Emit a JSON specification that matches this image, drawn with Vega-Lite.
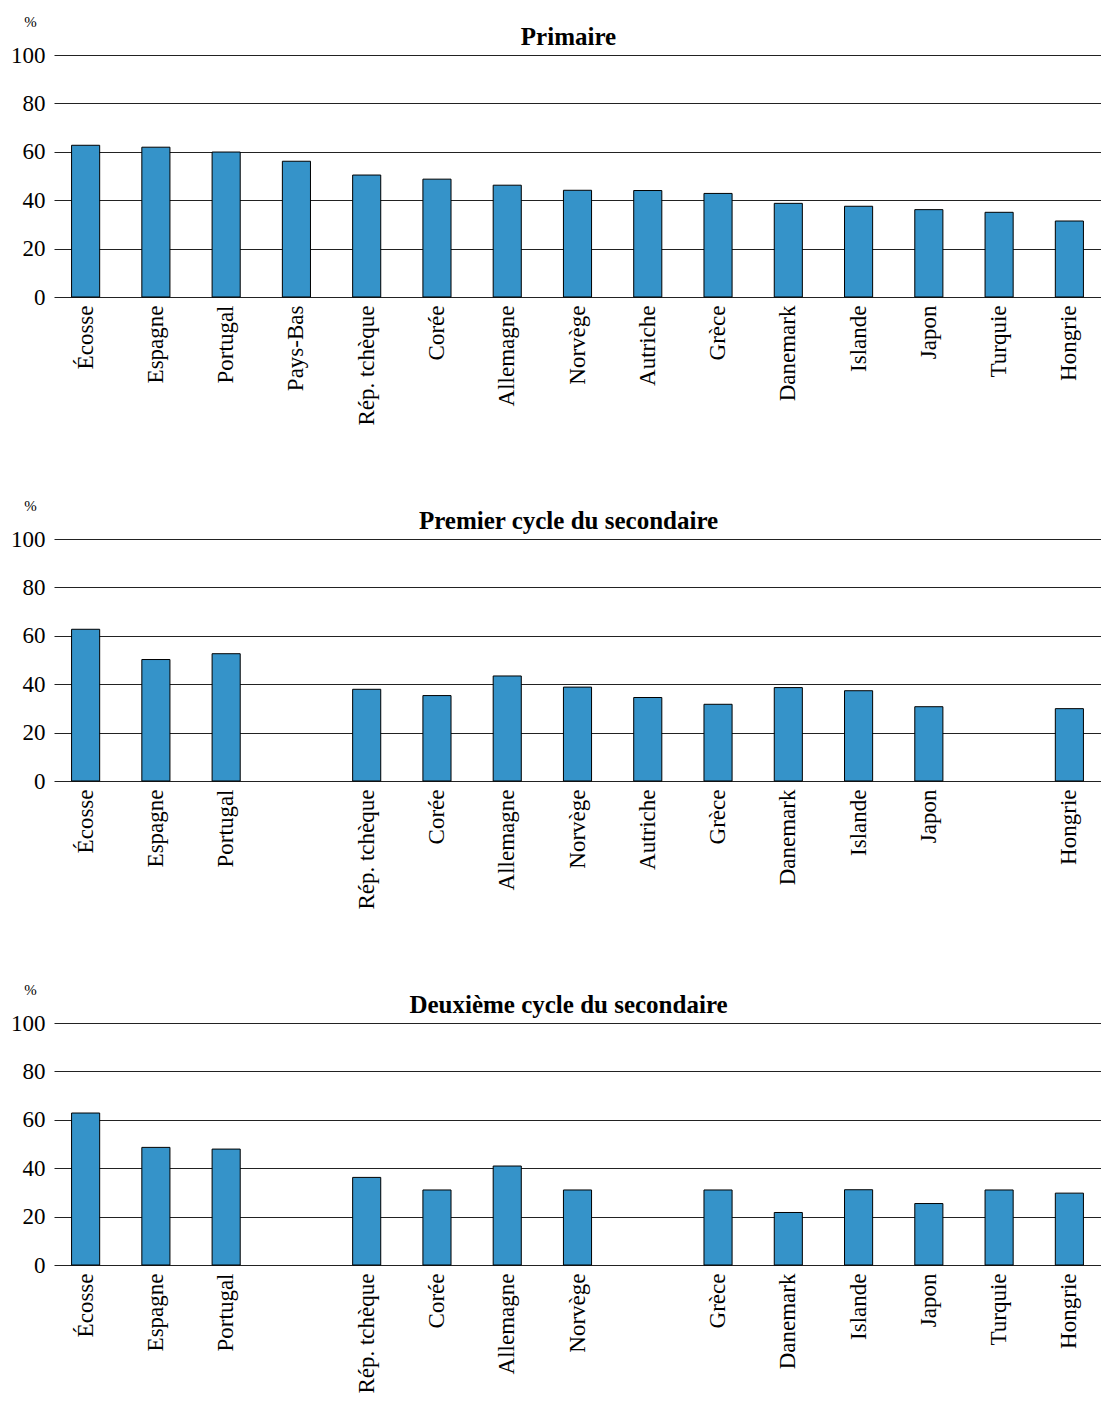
{
  "$schema": "https://vega.github.io/schema/vega-lite/v6.json",
  "background": "white",
  "padding": {"left": 10, "top": 14, "right": 0, "bottom": 0},
  "bounds": "flush",
  "spacing": 242,
  "config": {
    "font": "Liberation Serif",
    "view": {"stroke": null},
    "axis": {"labelColor": "#000", "titleColor": "#000", "labelFont": "Liberation Serif", "titleFont": "Liberation Serif"},
    "title": {"font": "Liberation Serif", "fontSize": 25, "fontWeight": "bold", "color": "#000", "anchor": "middle", "offset": -36, "dx": -9}
  },
  "datasets": {
    "d": [
      {"niveau": "Primaire", "pays": "Écosse", "valeur": 62.7},
      {"niveau": "Primaire", "pays": "Espagne", "valeur": 61.9},
      {"niveau": "Primaire", "pays": "Portugal", "valeur": 59.9},
      {"niveau": "Primaire", "pays": "Pays-Bas", "valeur": 56.1},
      {"niveau": "Primaire", "pays": "Rép. tchèque", "valeur": 50.4},
      {"niveau": "Primaire", "pays": "Corée", "valeur": 48.7},
      {"niveau": "Primaire", "pays": "Allemagne", "valeur": 46.2},
      {"niveau": "Primaire", "pays": "Norvège", "valeur": 44.1},
      {"niveau": "Primaire", "pays": "Autriche", "valeur": 44.0},
      {"niveau": "Primaire", "pays": "Grèce", "valeur": 42.8},
      {"niveau": "Primaire", "pays": "Danemark", "valeur": 38.7},
      {"niveau": "Primaire", "pays": "Islande", "valeur": 37.5},
      {"niveau": "Primaire", "pays": "Japon", "valeur": 36.1},
      {"niveau": "Primaire", "pays": "Turquie", "valeur": 35.0},
      {"niveau": "Primaire", "pays": "Hongrie", "valeur": 31.4},
      {"niveau": "Premier", "pays": "Écosse", "valeur": 62.7},
      {"niveau": "Premier", "pays": "Espagne", "valeur": 50.2},
      {"niveau": "Premier", "pays": "Portugal", "valeur": 52.6},
      {"niveau": "Premier", "pays": "Rép. tchèque", "valeur": 37.9},
      {"niveau": "Premier", "pays": "Corée", "valeur": 35.3},
      {"niveau": "Premier", "pays": "Allemagne", "valeur": 43.4},
      {"niveau": "Premier", "pays": "Norvège", "valeur": 38.8},
      {"niveau": "Premier", "pays": "Autriche", "valeur": 34.5},
      {"niveau": "Premier", "pays": "Grèce", "valeur": 31.7},
      {"niveau": "Premier", "pays": "Danemark", "valeur": 38.6},
      {"niveau": "Premier", "pays": "Islande", "valeur": 37.3},
      {"niveau": "Premier", "pays": "Japon", "valeur": 30.7},
      {"niveau": "Premier", "pays": "Hongrie", "valeur": 29.9},
      {"niveau": "Deuxieme", "pays": "Écosse", "valeur": 62.8},
      {"niveau": "Deuxieme", "pays": "Espagne", "valeur": 48.6},
      {"niveau": "Deuxieme", "pays": "Portugal", "valeur": 47.9},
      {"niveau": "Deuxieme", "pays": "Rép. tchèque", "valeur": 36.2},
      {"niveau": "Deuxieme", "pays": "Corée", "valeur": 31.0},
      {"niveau": "Deuxieme", "pays": "Allemagne", "valeur": 40.9},
      {"niveau": "Deuxieme", "pays": "Norvège", "valeur": 31.0},
      {"niveau": "Deuxieme", "pays": "Grèce", "valeur": 31.0},
      {"niveau": "Deuxieme", "pays": "Danemark", "valeur": 21.7},
      {"niveau": "Deuxieme", "pays": "Islande", "valeur": 31.1},
      {"niveau": "Deuxieme", "pays": "Japon", "valeur": 25.4},
      {"niveau": "Deuxieme", "pays": "Turquie", "valeur": 31.0},
      {"niveau": "Deuxieme", "pays": "Hongrie", "valeur": 29.7}
    ]
  },
  "vconcat": [
    {
      "width": 1047, "height": 242,
      "data": {"name": "d"},
      "transform": [{"filter": "datum.niveau === 'Primaire'"}],
      "title": {"text": "Primaire"},
      "mark": {"type": "bar", "fill": "#3593C9", "stroke": "#000", "strokeWidth": 1},
      "encoding": {
        "x": {"field": "pays", "type": "nominal", "sort": null,
          "scale": {"domain": ["Écosse","Espagne","Portugal","Pays-Bas","Rép. tchèque","Corée","Allemagne","Norvège","Autriche","Grèce","Danemark","Islande","Japon","Turquie","Hongrie"], "paddingInner": 0.6, "paddingOuter": 0.25},
          "axis": {"title": null, "labelAngle": -90, "labelFontSize": 23, "labelPadding": 8, "ticks": false, "domain": false, "labelLimit": 300,
            "values": ["Écosse","Espagne","Portugal","Pays-Bas","Rép. tchèque","Corée","Allemagne","Norvège","Autriche","Grèce","Danemark","Islande","Japon","Turquie","Hongrie"]}},
        "y": {"field": "valeur", "type": "quantitative", "scale": {"domain": [0, 100]},
          "axis": {"values": [0, 20, 40, 60, 80, 100], "title": "%", "titleAngle": 0, "titleFontSize": 15, "titleFontWeight": "normal", "titleAlign": "center", "titleBaseline": "alphabetic", "titleX": -24, "titleY": -29,
            "labelFontSize": 23, "labelPadding": 9, "ticks": false, "domain": false, "grid": true, "gridColor": "#222", "gridWidth": 1, "gridOpacity": 1}}
      }
    },
    {
      "width": 1047, "height": 242,
      "data": {"name": "d"},
      "transform": [{"filter": "datum.niveau === 'Premier'"}],
      "title": {"text": "Premier cycle du secondaire"},
      "mark": {"type": "bar", "fill": "#3593C9", "stroke": "#000", "strokeWidth": 1},
      "encoding": {
        "x": {"field": "pays", "type": "nominal", "sort": null,
          "scale": {"domain": ["Écosse","Espagne","Portugal","Pays-Bas","Rép. tchèque","Corée","Allemagne","Norvège","Autriche","Grèce","Danemark","Islande","Japon","Turquie","Hongrie"], "paddingInner": 0.6, "paddingOuter": 0.25},
          "axis": {"title": null, "labelAngle": -90, "labelFontSize": 23, "labelPadding": 8, "ticks": false, "domain": false, "labelLimit": 300,
            "values": ["Écosse","Espagne","Portugal","Rép. tchèque","Corée","Allemagne","Norvège","Autriche","Grèce","Danemark","Islande","Japon","Hongrie"]}},
        "y": {"field": "valeur", "type": "quantitative", "scale": {"domain": [0, 100]},
          "axis": {"values": [0, 20, 40, 60, 80, 100], "title": "%", "titleAngle": 0, "titleFontSize": 15, "titleFontWeight": "normal", "titleAlign": "center", "titleBaseline": "alphabetic", "titleX": -24, "titleY": -29,
            "labelFontSize": 23, "labelPadding": 9, "ticks": false, "domain": false, "grid": true, "gridColor": "#222", "gridWidth": 1, "gridOpacity": 1}}
      }
    },
    {
      "width": 1047, "height": 242,
      "data": {"name": "d"},
      "transform": [{"filter": "datum.niveau === 'Deuxieme'"}],
      "title": {"text": "Deuxième cycle du secondaire"},
      "mark": {"type": "bar", "fill": "#3593C9", "stroke": "#000", "strokeWidth": 1},
      "encoding": {
        "x": {"field": "pays", "type": "nominal", "sort": null,
          "scale": {"domain": ["Écosse","Espagne","Portugal","Pays-Bas","Rép. tchèque","Corée","Allemagne","Norvège","Autriche","Grèce","Danemark","Islande","Japon","Turquie","Hongrie"], "paddingInner": 0.6, "paddingOuter": 0.25},
          "axis": {"title": null, "labelAngle": -90, "labelFontSize": 23, "labelPadding": 8, "ticks": false, "domain": false, "labelLimit": 300,
            "values": ["Écosse","Espagne","Portugal","Rép. tchèque","Corée","Allemagne","Norvège","Grèce","Danemark","Islande","Japon","Turquie","Hongrie"]}},
        "y": {"field": "valeur", "type": "quantitative", "scale": {"domain": [0, 100]},
          "axis": {"values": [0, 20, 40, 60, 80, 100], "title": "%", "titleAngle": 0, "titleFontSize": 15, "titleFontWeight": "normal", "titleAlign": "center", "titleBaseline": "alphabetic", "titleX": -24, "titleY": -29,
            "labelFontSize": 23, "labelPadding": 9, "ticks": false, "domain": false, "grid": true, "gridColor": "#222", "gridWidth": 1, "gridOpacity": 1}}
      }
    }
  ]
}
